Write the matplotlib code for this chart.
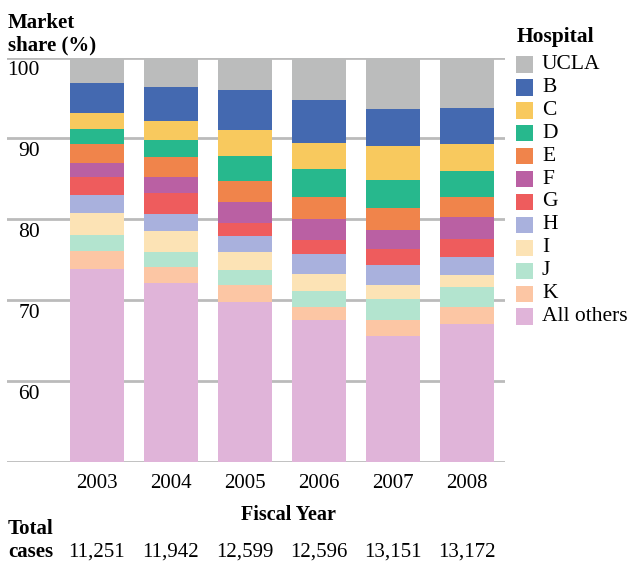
import numpy as np
import matplotlib
matplotlib.use("Agg")
import matplotlib.pyplot as plt
from matplotlib.patches import Rectangle
from matplotlib.transforms import blended_transform_factory

plt.rcParams["font.family"] = ["Liberation Serif", "DejaVu Serif"]

# === Data (market share %, stacked bottom -> top) ===
years = ["2003", "2004", "2005", "2006", "2007", "2008"]
total_cases = ["11,251", "11,942", "12,599", "12,596", "13,151", "13,172"]

all_others = [73.9, 72.1, 69.8, 67.5, 65.6, 67.1]
hosp_k = [2.2, 2.0, 2.1, 1.6, 2.0, 2.0]
hosp_j = [2.0, 1.9, 1.8, 2.0, 2.5, 2.5]
hosp_i = [2.7, 2.5, 2.2, 2.1, 1.8, 1.5]
hosp_h = [2.2, 2.2, 2.0, 2.5, 2.4, 2.2]
hosp_g = [2.2, 2.5, 1.7, 1.8, 2.0, 2.3]
hosp_f = [1.8, 2.0, 2.5, 2.5, 2.4, 2.7]
hosp_e = [2.3, 2.5, 2.6, 2.7, 2.7, 2.4]
hosp_d = [1.9, 2.1, 3.1, 3.5, 3.5, 3.3]
hosp_c = [2.0, 2.3, 3.3, 3.2, 4.1, 3.3]
hosp_b = [3.7, 4.2, 4.9, 5.4, 4.6, 4.5]
ucla = [3.1, 3.7, 4.0, 5.2, 6.4, 6.2]

series = [
    ("All others", all_others, "#E0B4D9"),
    ("K", hosp_k, "#FCC6A4"),
    ("J", hosp_j, "#B3E4CF"),
    ("I", hosp_i, "#FCE3B5"),
    ("H", hosp_h, "#A9B1DD"),
    ("G", hosp_g, "#EE5C5D"),
    ("F", hosp_f, "#BA60A3"),
    ("E", hosp_e, "#F0844B"),
    ("D", hosp_d, "#27B88D"),
    ("C", hosp_c, "#F8C95E"),
    ("B", hosp_b, "#4469B0"),
    ("UCLA", ucla, "#BBBCBC"),
]

W, H = 630, 561
fig = plt.figure(figsize=(W / 100, H / 100), dpi=100)
ax = fig.add_axes([7 / W, 1 - 462 / H, (505 - 7) / W, (462 - 57.5) / H])

x = np.arange(len(years))
bottom = np.zeros(len(years))
for name, vals, color in series:
    ax.bar(x, vals, bottom=bottom, width=0.73, color=color, zorder=2, linewidth=0)
    bottom += np.array(vals)

ax.set_ylim(50, 100)
ax.set_xlim(-1.216, 5.514)
for spine in ax.spines.values():
    spine.set_visible(False)

# gridlines + y labels sitting just under each line
for v in [50, 60, 70, 80, 90, 100]:
    ax.axhline(v, color="#BBBBBB", linewidth=2, zorder=1)
    if v > 50:
        ax.text(-0.77, v - 1.6, str(v), ha="right", va="center", fontsize=15.5)

ax.set_yticks([])
ax.set_xticks(x, years, fontsize=15)
ax.tick_params(axis="x", length=0, pad=9)

# titles
fig.text(8 / W, 1 - 28 / H, "Market", fontsize=15, fontweight="bold", va="baseline")
fig.text(8 / W, 1 - 50 / H, "share (%)", fontsize=15, fontweight="bold", va="baseline")
fig.text(288 / W, 1 - 520 / H, "Fiscal Year", fontsize=14.5, fontweight="bold",
         ha="center", va="baseline")
fig.text(8 / W, 1 - 534 / H, "Total", fontsize=15, fontweight="bold", va="baseline")
fig.text(8 / W, 1 - 557 / H, "cases", fontsize=15, fontweight="bold", va="baseline")

trans = blended_transform_factory(ax.transData, fig.transFigure)
for xi, tc in zip(x, total_cases):
    ax.text(xi, 1 - 557 / H, tc, transform=trans, ha="center", va="baseline", fontsize=15)

# legend (manual)
fig.text(517 / W, 1 - 42 / H, "Hospital", fontsize=15.5, fontweight="bold", va="baseline")
for i, (name, vals, color) in enumerate(series[::-1]):
    yc = 64.3 + i * 22.95
    fig.add_artist(Rectangle((516 / W, 1 - (yc + 8.3) / H), 17 / W, 16.6 / H,
                             transform=fig.transFigure, color=color, linewidth=0))
    fig.text(542 / W, 1 - yc / H, name, fontsize=15.5, va="center")

fig.savefig("out.png", dpi=100)
